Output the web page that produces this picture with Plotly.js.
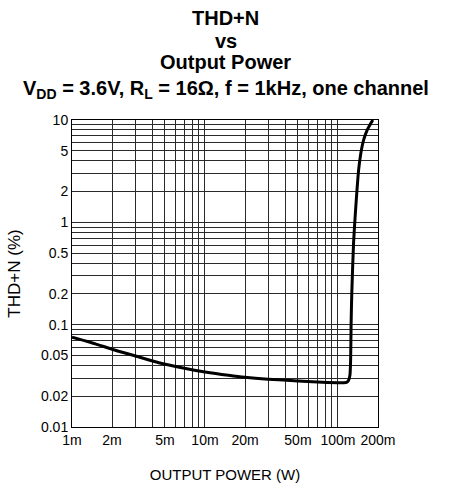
<!DOCTYPE html>
<html>
<head>
<meta charset="utf-8">
<script src="https://cdn.plot.ly/plotly-3.0.1.min.js"></script>
<style>html,body{margin:0;padding:0;background:#fff;}#chart{width:451px;height:489px;}</style>
</head>
<body>
<div id="chart"></div>
<script>
// Output power (W)
var outputPower = [0.001, 0.0015, 0.002, 0.003, 0.0045, 0.007, 0.01, 0.015, 0.02, 0.03, 0.05, 0.07, 0.1, 0.11, 0.116, 0.12, 0.123, 0.1245, 0.1255, 0.127, 0.131, 0.135, 0.139, 0.143, 0.150, 0.156, 0.166, 0.175, 0.183];
// THD+N (%)
var thdN = [0.0755, 0.065, 0.0575, 0.0494, 0.0425, 0.0375, 0.0345, 0.032, 0.0306, 0.0293, 0.0282, 0.0275, 0.0271, 0.0271, 0.0273, 0.0285, 0.032, 0.045, 0.1, 0.2, 0.63, 1.2, 2.07, 3.25, 5.1, 6.4, 8.0, 9.1, 10];

var xTickVals = [0.001, 0.002, 0.005, 0.01, 0.02, 0.05, 0.1, 0.2];
var xTickText = ['1m', '2m', '5m', '10m', '20m', '50m', '100m', '200m'];
var yTickVals = [0.01, 0.02, 0.05, 0.1, 0.2, 0.5, 1, 2, 5, 10];
var yTickText = ['0.01', '0.02', '0.05', '0.1', '0.2', '0.5', '1', '2', '5', '10'];
var titleLines = ['THD+N', 'vs', 'Output Power', 'V<sub>DD</sub> = 3.6V, R<sub>L</sub> = 16Ω, f = 1kHz, one channel'];

function decadeGrid(lo, hi) {
  var v = [];
  for (var d = lo; d < hi; d++) {
    for (var k = 1; k <= 9; k++) v.push(k * Math.pow(10, d));
  }
  v.push(Math.pow(10, hi));
  return v;
}

var font = 'Liberation Sans, Arial, Helvetica, sans-serif';
var gridColor = '#2a2a2a';

var W = 451, H = 489;
var M = {l: 72, r: 73, t: 120, b: 62};
var plotH = H - M.t - M.b;
// title line centres in pixels from top
var titleCentres = [18, 41, 62, 90];
var annotations = titleLines.map(function (t, i) {
  return {
    text: t,
    xref: 'paper', yref: 'paper',
    x: (W / 2 - M.l) / (W - M.l - M.r),
    xanchor: 'center',
    y: (H - M.b - titleCentres[i]) / plotH,
    yanchor: 'middle',
    showarrow: false,
    font: {family: font, size: 20, color: '#000', weight: 'bold'}
  };
});

var trace = {
  x: outputPower,
  y: thdN,
  type: 'scatter',
  mode: 'lines',
  line: {color: '#000', width: 3, shape: 'spline', smoothing: 0.6},
  hoverinfo: 'skip'
};

var layout = {
  width: W,
  height: H,
  margin: M,
  paper_bgcolor: '#fff',
  plot_bgcolor: '#fff',
  showlegend: false,
  annotations: annotations,
  xaxis: {
    type: 'log',
    range: [Math.log10(0.001), Math.log10(0.2)],
    tickmode: 'array',
    tickvals: xTickVals,
    ticktext: xTickText,
    ticks: '',
    showgrid: false,
    zeroline: false,
    showline: true, mirror: true, linecolor: '#000', linewidth: 1,
    tickfont: {family: font, size: 14, color: '#000'},
    minor: {tickmode: 'array', tickvals: decadeGrid(-3, -1).concat([0.2]), showgrid: true, gridcolor: gridColor, gridwidth: 1, ticks: ''},
    title: {text: 'OUTPUT POWER (W)', font: {family: font, size: 15, color: '#000'}, standoff: 22}
  },
  yaxis: {
    type: 'log',
    range: [-2, 1],
    tickmode: 'array',
    tickvals: yTickVals,
    ticktext: yTickText,
    ticks: '',
    showgrid: false,
    zeroline: false,
    showline: true, mirror: true, linecolor: '#000', linewidth: 1,
    tickfont: {family: font, size: 14, color: '#000'},
    minor: {tickmode: 'array', tickvals: decadeGrid(-2, 1), showgrid: true, gridcolor: gridColor, gridwidth: 1, ticks: ''},
    title: {text: 'THD+N (%)', font: {family: font, size: 17, color: '#000'}, standoff: 16}
  }
};

Plotly.newPlot('chart', [trace], layout, {displayModeBar: false, staticPlot: true});
</script>
</body>
</html>
